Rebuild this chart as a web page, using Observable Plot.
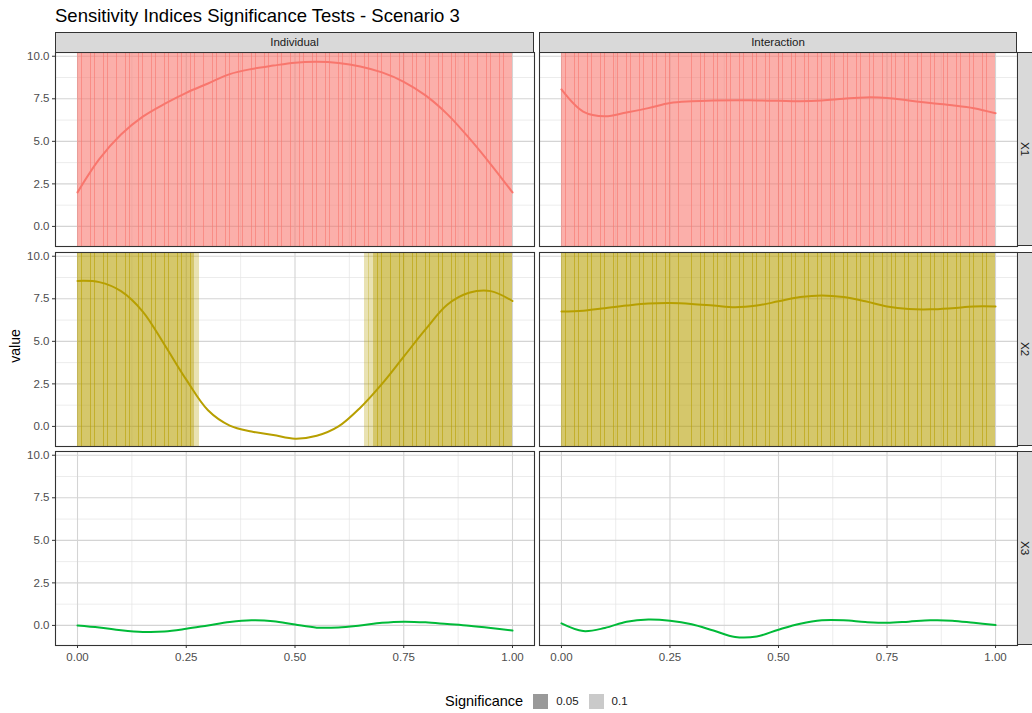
<!DOCTYPE html>
<html><head><meta charset="utf-8">
<script src="https://cdn.jsdelivr.net/npm/d3@7"></script>
<script src="https://cdn.jsdelivr.net/npm/@observablehq/plot@0.6"></script>
<style>
body{margin:0;background:#fff;font-family:"Liberation Sans",Arial,Helvetica,sans-serif;}
#root{position:relative;width:1032px;height:713px;overflow:hidden;background:#fff;}
.abs{position:absolute;white-space:nowrap;}
.strip{position:absolute;background:#D9D9D9;border:1px solid #333;box-sizing:border-box;color:#1A1A1A;font-size:11.5px;display:flex;align-items:center;justify-content:center;}
.strip span{display:inline-block;}
</style></head><body><div id="root"></div>
<script>
// ---------- data ----------
const variables = ["X1", "X2", "X3"];
const types = ["Individual", "Interaction"];
const xs = [0, 0.05, 0.1, 0.15, 0.2, 0.25, 0.3, 0.35, 0.4, 0.45, 0.5, 0.55, 0.6, 0.65, 0.7, 0.75, 0.8, 0.85, 0.9, 0.95, 1.0];
const x1Individual  = [2.0, 3.95, 5.4, 6.45, 7.2, 7.85, 8.4, 8.95, 9.25, 9.45, 9.62, 9.67, 9.6, 9.4, 9.05, 8.5, 7.7, 6.6, 5.2, 3.65, 2.0];
const x1Interaction = [8.05, 6.75, 6.47, 6.7, 6.95, 7.25, 7.35, 7.4, 7.42, 7.4, 7.38, 7.36, 7.4, 7.5, 7.58, 7.55, 7.4, 7.25, 7.12, 6.95, 6.65];
const x2Individual  = [8.55, 8.48, 7.95, 6.75, 4.8, 2.75, 0.95, 0.05, -0.3, -0.5, -0.72, -0.55, 0.0, 1.1, 2.5, 4.1, 5.7, 7.15, 7.85, 7.95, 7.37];
const x2Interaction = [6.75, 6.8, 6.95, 7.1, 7.22, 7.25, 7.2, 7.1, 7.0, 7.1, 7.35, 7.6, 7.7, 7.6, 7.35, 7.05, 6.9, 6.88, 6.95, 7.05, 7.05];
const x3Individual  = [0.0, -0.12, -0.28, -0.38, -0.36, -0.2, 0.0, 0.2, 0.3, 0.25, 0.05, -0.13, -0.12, 0.0, 0.15, 0.22, 0.18, 0.08, -0.02, -0.15, -0.3];
const x3Interaction = [0.12, -0.33, -0.15, 0.22, 0.35, 0.28, 0.07, -0.3, -0.68, -0.65, -0.25, 0.1, 0.3, 0.3, 0.2, 0.15, 0.22, 0.3, 0.28, 0.15, 0.02];
const seriesValues = {
  "X1|Individual": x1Individual, "X1|Interaction": x1Interaction,
  "X2|Individual": x2Individual, "X2|Interaction": x2Interaction,
  "X3|Individual": x3Individual, "X3|Interaction": x3Interaction
};
// significant regions: variable, type, from, to, level
const sigRegions = [
  ["X1", "Individual", 0.00, 1.00, "0.05"],
  ["X1", "Interaction", 0.00, 1.00, "0.05"],
  ["X2", "Individual", 0.00, 0.27, "0.05"],
  ["X2", "Individual", 0.27, 0.28, "0.1"],
  ["X2", "Individual", 0.66, 0.68, "0.1"],
  ["X2", "Individual", 0.68, 1.00, "0.05"],
  ["X2", "Interaction", 0.00, 1.00, "0.05"]
];
const tileWidth = 0.01;
const tileOverlap = 0.0015;
const sigLevels = ["0.05", "0.1"];
const yTicks = [0, 2.5, 5, 7.5, 10];
const yMinor = [1.25, 3.75, 6.25, 8.75];
const xTicks = [0, 0.25, 0.5, 0.75, 1];
const xMinor = [0.125, 0.375, 0.625, 0.875];
const varColors = {X1: "#F8766D", X2: "#B79F00", X3: "#00BA38"};
const levelAlpha = {"0.05": 0.58, "0.1": 0.3};

// ---------- layout ----------
const root = document.getElementById("root");
const colX = [55, 539], colW = [479, 478];
const rowY = [52, 251.5, 451], rowH = 194;
const ML = 50, MB = 30;

function addDiv(cls, css, html) {
  const d = document.createElement("div");
  d.className = cls; Object.assign(d.style, css); d.innerHTML = html; root.appendChild(d); return d;
}

addDiv("abs", {left: "55px", top: "5px", fontSize: "18.5px", color: "#000"}, "Sensitivity Indices Significance Tests - Scenario 3");

// tiles
const tiles = [];
for (const [v, t, from, to, level] of sigRegions) {
  const n = Math.round((to - from) / tileWidth);
  for (let i = 0; i < n; i++) {
    const last = i === n - 1;
    tiles.push({variable: v, type: t, x1: from + i * tileWidth, x2: from + (i + 1) * tileWidth + (last ? 0 : tileOverlap), level});
  }
}

variables.forEach((v, r) => {
  types.forEach((t, c) => {
    const vals = seriesValues[v + "|" + t];
    const pts = xs.map((x, i) => ({x, value: vals[i]}));
    const myTiles = tiles.filter(d => d.variable === v && d.type === t);
    const col = varColors[v];
    const marks = [
      Plot.gridY(yMinor, {stroke: "#E4E4E4", strokeOpacity: 1, strokeWidth: 0.7}),
      Plot.gridX(xMinor, {stroke: "#E4E4E4", strokeOpacity: 1, strokeWidth: 0.7}),
      Plot.gridY(yTicks, {stroke: "#D4D4D4", strokeOpacity: 1, strokeWidth: 1.1}),
      Plot.gridX(xTicks, {stroke: "#D4D4D4", strokeOpacity: 1, strokeWidth: 1.1}),
      Plot.rectX(myTiles, {x1: "x1", x2: "x2", y1: -1.18, y2: 10.22, fill: col,
        fillOpacity: d => levelAlpha[d.level], shapeRendering: "crispEdges"}),
      Plot.line(pts, {x: "x", y: "value", stroke: col, strokeWidth: 2, curve: "catmull-rom"}),
      Plot.frame({stroke: "#333", strokeWidth: 1.1})
    ];
    if (c === 0) marks.push(Plot.axisY(yTicks, {tickFormat: d => d.toFixed(1), tickSize: 3, tickPadding: 3, stroke: "#333", fill: "#4D4D4D", fontSize: 11.5, label: null}));
    if (r === 2) marks.push(Plot.axisX(xTicks, {tickFormat: d => d.toFixed(2), tickSize: 3, tickPadding: 4, stroke: "#333", fill: "#4D4D4D", fontSize: 11.5, label: null}));
    const p = Plot.plot({
      width: colW[c] + ML, height: rowH + MB,
      marginLeft: ML, marginRight: 0, marginTop: 0, marginBottom: MB,
      style: {background: "transparent", overflow: "visible", fontFamily: "'Liberation Sans', Arial, sans-serif"},
      x: {domain: [-0.0506, 1.0506], axis: null},
      y: {domain: [-1.18, 10.22], axis: null},
      marks
    });
    p.style.position = "absolute";
    p.style.left = (colX[c] - ML) + "px";
    p.style.top = rowY[r] + "px";
    root.appendChild(p);
  });
  addDiv("strip", {left: "1016.5px", top: rowY[r] + "px", width: "17px", height: rowH + "px"}, `<span style="transform:rotate(90deg)">${v}</span>`);
});
types.forEach((t, c) => {
  addDiv("strip", {left: colX[c] + "px", top: "32px", width: colW[c] + "px", height: "20.5px"}, t);
});

// axis title
addDiv("abs", {left: "-5px", top: "338px", width: "40px", textAlign: "center", fontSize: "14px", color: "#000", transform: "rotate(-90deg)"}, "value");

// legend
const legend = addDiv("abs", {left: "445px", top: "692px", height: "18px", display: "flex", alignItems: "center", fontSize: "14.5px", color: "#000"}, "");
legend.innerHTML = `<span style="margin-right:10px">Significance</span>` + sigLevels.map(l => {
  const g = Math.round(255 - 255 * levelAlpha[l] * 0.69);
  return `<span style="display:inline-block;width:15px;height:15px;background:rgb(${g},${g},${g});margin-right:8px"></span><span style="font-size:11.5px;color:#1A1A1A;margin-right:10px">${l}</span>`;
}).join("");
</script></body></html>
